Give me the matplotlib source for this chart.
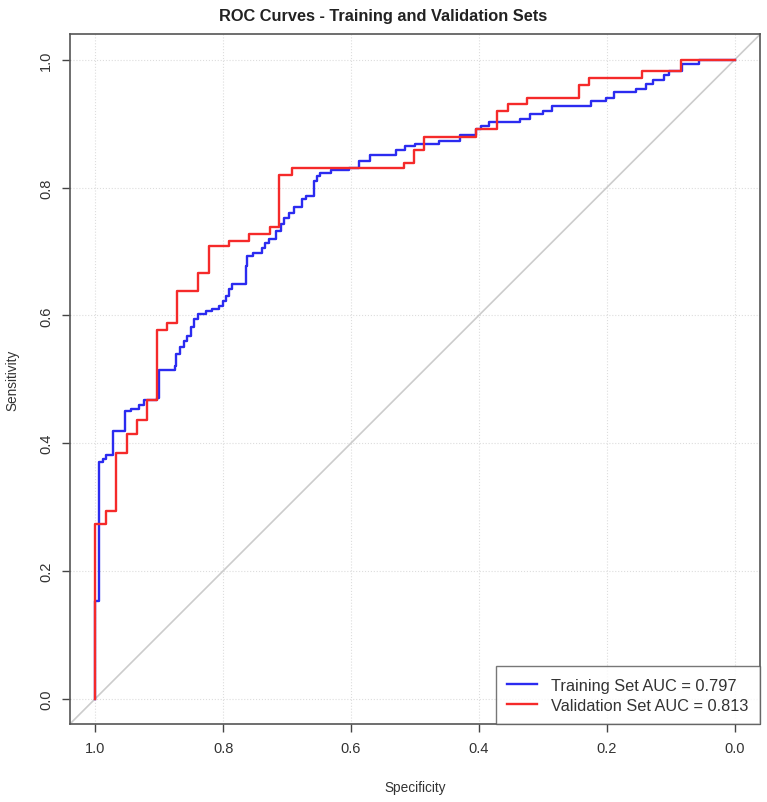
import matplotlib.pyplot as plt

plt.rcParams['font.family'] = ['Liberation Sans', 'DejaVu Sans']

# training set ROC vertices (specificity, sensitivity)
train_spec = [1.0, 1.0, 0.994, 0.994, 0.988, 0.988, 0.984, 0.984, 0.972, 0.972,
              0.953, 0.953, 0.944, 0.944, 0.931, 0.931, 0.924, 0.924, 0.904, 0.904,
              0.900, 0.900, 0.876, 0.876, 0.874, 0.874, 0.867, 0.867, 0.862, 0.862,
              0.856, 0.856, 0.850, 0.850, 0.845, 0.845, 0.840, 0.840, 0.827, 0.827,
              0.817, 0.817, 0.806, 0.806, 0.801, 0.801, 0.796, 0.796, 0.791, 0.791,
              0.786, 0.786, 0.765, 0.765, 0.762, 0.762, 0.754, 0.754, 0.739, 0.739,
              0.734, 0.734, 0.729, 0.729, 0.718, 0.718, 0.710, 0.710, 0.705, 0.705,
              0.697, 0.697, 0.690, 0.690, 0.676, 0.676, 0.671, 0.671, 0.658, 0.658,
              0.653, 0.653, 0.648, 0.648, 0.632, 0.632, 0.603, 0.603, 0.587, 0.587,
              0.570, 0.570, 0.529, 0.529, 0.516, 0.516, 0.500, 0.500, 0.463, 0.463,
              0.429, 0.429, 0.405, 0.405, 0.397, 0.397, 0.384, 0.384, 0.336, 0.336,
              0.320, 0.320, 0.299, 0.299, 0.286, 0.286, 0.224, 0.224, 0.201, 0.201,
              0.188, 0.188, 0.154, 0.154, 0.139, 0.139, 0.128, 0.128, 0.110, 0.110,
              0.102, 0.102, 0.082, 0.082, 0.056, 0.056, 0.0]
train_sens = [0.0, 0.152, 0.152, 0.370, 0.370, 0.375, 0.375, 0.381, 0.381, 0.419,
              0.419, 0.450, 0.450, 0.453, 0.453, 0.459, 0.459, 0.467, 0.467, 0.470,
              0.470, 0.514, 0.514, 0.521, 0.521, 0.540, 0.540, 0.550, 0.550, 0.560,
              0.560, 0.568, 0.568, 0.581, 0.581, 0.594, 0.594, 0.602, 0.602, 0.607,
              0.607, 0.610, 0.610, 0.615, 0.615, 0.623, 0.623, 0.631, 0.631, 0.641,
              0.641, 0.649, 0.649, 0.678, 0.678, 0.693, 0.693, 0.698, 0.698, 0.706,
              0.706, 0.714, 0.714, 0.719, 0.719, 0.732, 0.732, 0.743, 0.743, 0.753,
              0.753, 0.761, 0.761, 0.769, 0.769, 0.782, 0.782, 0.787, 0.787, 0.810,
              0.810, 0.818, 0.818, 0.823, 0.823, 0.827, 0.827, 0.831, 0.831, 0.841,
              0.841, 0.851, 0.851, 0.859, 0.859, 0.865, 0.865, 0.869, 0.869, 0.873,
              0.873, 0.883, 0.883, 0.891, 0.891, 0.896, 0.896, 0.902, 0.902, 0.907,
              0.907, 0.915, 0.915, 0.920, 0.920, 0.928, 0.928, 0.935, 0.935, 0.941,
              0.941, 0.949, 0.949, 0.954, 0.954, 0.962, 0.962, 0.969, 0.969, 0.977,
              0.977, 0.983, 0.983, 0.993, 0.993, 1.0, 1.0]

# validation set ROC vertices
valid_spec = [1.0, 1.0, 0.984, 0.984, 0.967, 0.967, 0.950, 0.950, 0.935, 0.935,
              0.919, 0.919, 0.903, 0.903, 0.888, 0.888, 0.872, 0.872, 0.840, 0.840,
              0.822, 0.822, 0.791, 0.791, 0.759, 0.759, 0.726, 0.726, 0.712, 0.712,
              0.692, 0.692, 0.517, 0.517, 0.502, 0.502, 0.486, 0.486, 0.405, 0.405,
              0.372, 0.372, 0.355, 0.355, 0.324, 0.324, 0.243, 0.243, 0.227, 0.227,
              0.145, 0.145, 0.083, 0.083, 0.0]
valid_sens = [0.0, 0.273, 0.273, 0.294, 0.294, 0.384, 0.384, 0.414, 0.414, 0.436,
              0.436, 0.467, 0.467, 0.577, 0.577, 0.588, 0.588, 0.638, 0.638, 0.667,
              0.667, 0.709, 0.709, 0.717, 0.717, 0.727, 0.727, 0.739, 0.739, 0.819,
              0.819, 0.830, 0.830, 0.839, 0.839, 0.859, 0.859, 0.880, 0.880, 0.892,
              0.892, 0.920, 0.920, 0.931, 0.931, 0.941, 0.941, 0.961, 0.961, 0.972,
              0.972, 0.983, 0.983, 1.0, 1.0]

train_auc = 0.797
valid_auc = 0.813
ticks = [0.0, 0.2, 0.4, 0.6, 0.8, 1.0]

fig = plt.figure(figsize=(7.67, 8.03), dpi=100)
ax = fig.add_axes([0.091, 0.097, 0.900, 0.859])

ax.grid(True, linestyle=':', linewidth=0.8, color='#dddddd')
ax.set_axisbelow(True)
ax.axline((1, 0), (0, 1), color='#cccccc', linewidth=1.2, zorder=1)

ax.plot(train_spec, train_sens, color='#2b2bf0', linewidth=1.7,
        label='Training Set AUC = %.3f' % train_auc, zorder=3)
ax.plot(valid_spec, valid_sens, color='#f52a2a', linewidth=1.7,
        label='Validation Set AUC = %.3f' % valid_auc, zorder=4)

ax.set_xlim(1.04, -0.04)
ax.set_ylim(-0.04, 1.04)
ax.set_xticks(ticks)
ax.set_yticks(ticks)
ax.set_xticklabels(['%.1f' % t for t in ticks])
ax.set_yticklabels(['%.1f' % t for t in ticks], rotation=90, va='center')
ax.tick_params(direction='out', length=6, width=1, color='#444444',
               labelsize=10.5, labelcolor='#333333', pad=6)
for s in ax.spines.values():
    s.set_color('#555555')
    s.set_linewidth(1.2)

ax.set_title('ROC Curves - Training and Validation Sets', fontsize=11.8,
             fontweight='bold', color='#222222', pad=10, x=0.4536)
ax.set_xlabel('Specificity', fontsize=9.8, color='#333333', labelpad=18)
ax.set_ylabel('Sensitivity', fontsize=9.8, color='#333333', labelpad=14)

leg = ax.legend(loc='lower right', borderaxespad=0, fancybox=False,
                edgecolor='#555555', fontsize=11.8, handlelength=1.85,
                handletextpad=0.85, borderpad=0.7, labelspacing=0.3)
leg.get_frame().set_linewidth(1.0)
for t in leg.get_texts():
    t.set_color('#333333')

plt.savefig('out.png', dpi=100)
